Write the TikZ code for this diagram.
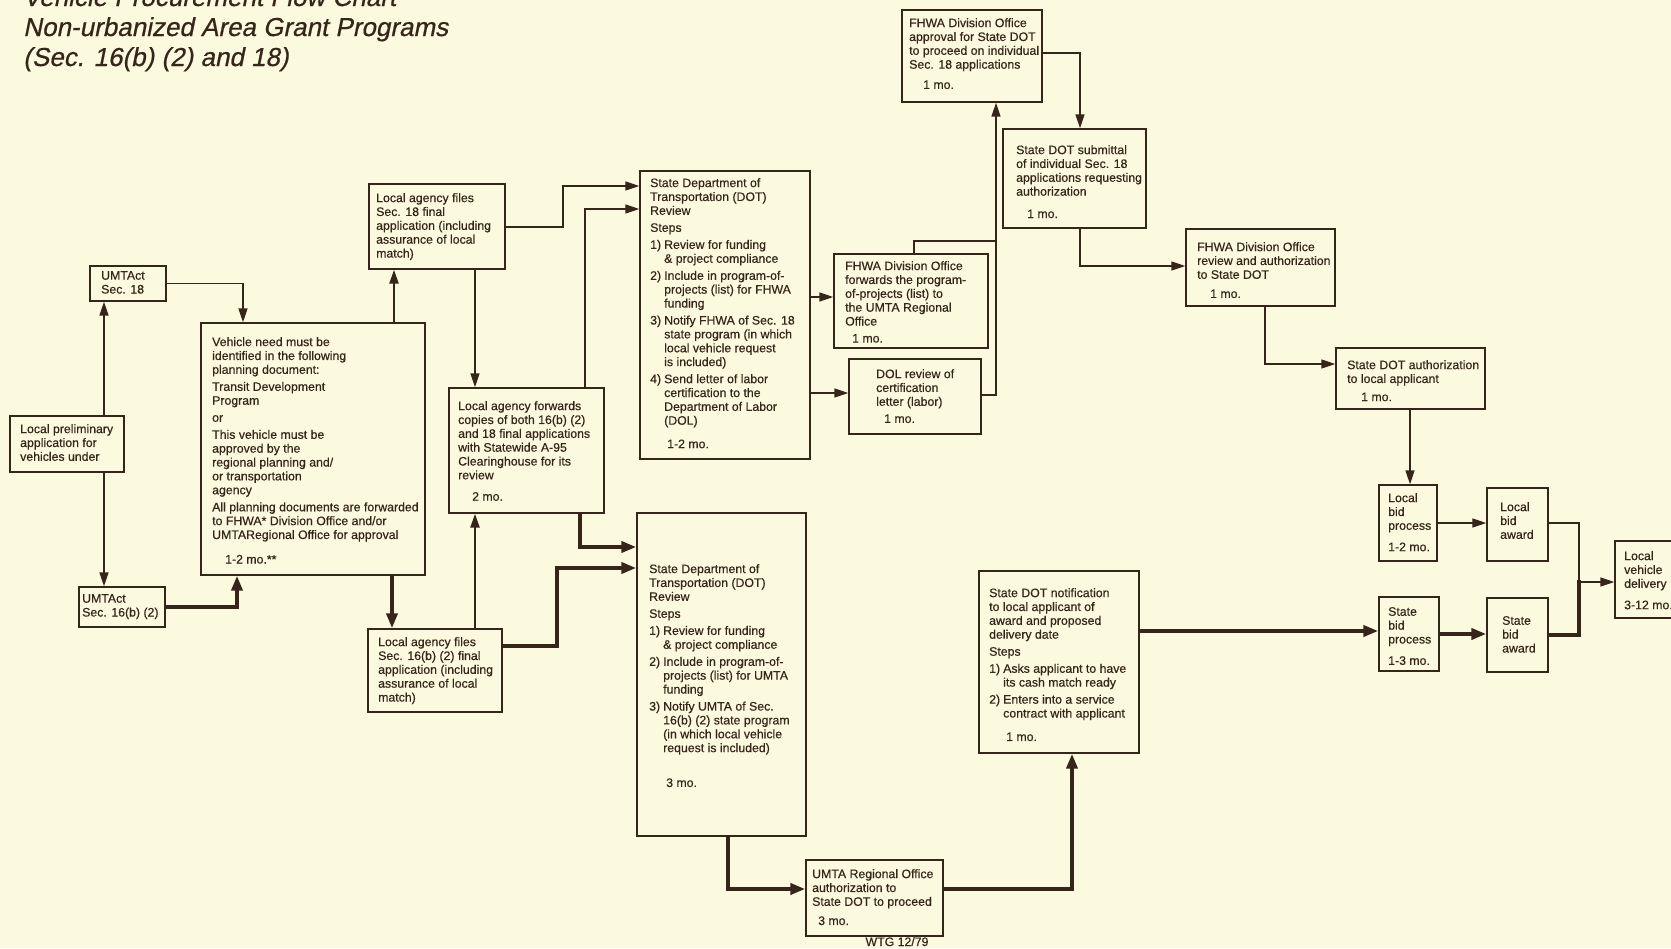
\documentclass[tikz,border=0pt]{standalone}
\usepackage{fontspec}
\setmainfont{Liberation Sans}
\newfontfamily\boxfont[FakeBold=0.5]{Liberation Sans}
\newfontfamily\ttlfont[FakeBold=0.6,FakeSlant=0.2]{Liberation Sans}
\usetikzlibrary{arrows.meta}
\definecolor{bg}{RGB}{251,249,222}
\definecolor{ink}{RGB}{55,37,27}
\newcommand{\ind}{\hspace*{14pt}}
\newcommand{\itm}[1]{\makebox[14pt][l]{#1}}
\newcommand{\mybox}[5]{\node[boxst, minimum width={#4-#2}, minimum height={#5-#3}] (#1) at ({(#2+#4)/2},{(#3+#5)/2}) {};}
\begin{document}
\begin{tikzpicture}[x=1pt,y=-1pt,
 boxst/.style={draw=ink, line width=1.4pt, rectangle, inner sep=0pt, anchor=center},
 txt/.style={anchor=north west, inner sep=0pt, align=left, text=ink, font=\boxfont\fontsize{12.3}{13.85}\selectfont},
 ttl/.style={anchor=base west, inner sep=0pt, text=ink, font=\ttlfont\fontsize{26}{30}\selectfont},
 ln/.style={draw=ink, line width=1.5pt},
 med/.style={draw=ink, line width=2.4pt},
 thk/.style={draw=ink, line width=4.2pt},
 arr/.style={-{Triangle[length=14pt,width=9pt]}},
 arrb/.style={-{Triangle[length=15pt,width=11pt]}}
 ]
\useasboundingbox (0,0) rectangle (1671,948);
\clip (0,0) rectangle (1671,948);
\fill[bg] (0,0) rectangle (1671,948);

% title
\node[ttl] (title1) at (23,6) {Vehicle Procurement Flow Chart};
\node[ttl] (title2) at (23,36) {Non-urbanized Area Grant Programs};
\node[ttl] (title3) at (23,66) {(Sec. 16(b) (2) and 18)};

% boxes
\mybox{sec18}{90}{266}{166}{301}
\node[txt] (sec18t) at (101,271) {UMTAct\\Sec. 18};

\mybox{prelim}{10}{416}{124}{472}
\node[txt] (prelimt) at (20,424) {Local preliminary\\application for\\vehicles under};

\mybox{sec16b}{79}{587}{165}{627}
\node[txt] (sec16bt) at (82,594) {UMTAct\\Sec. 16(b) (2)};

\mybox{plan}{201}{323}{425}{575}
\node[txt] (plant) at (212,337) {Vehicle need must be\\
identified in the following\\
planning document:\\[3.2pt]
Transit Development\\
Program\\[3.2pt]
or\\[3.2pt]
This vehicle must be\\
approved by the\\
regional planning and/\\
or transportation\\
agency\\[3.2pt]
All planning documents are forwarded\\
to FHWA* Division Office and/or\\
UMTARegional Office for approval\\[10.7pt]
\hspace*{13pt}1-2 mo.**};

\mybox{lafile18}{369}{184}{505}{269}
\node[txt] (lafile18t) at (376,193) {Local agency files\\Sec. 18 final\\application (including\\assurance of local\\match)};

\mybox{forwards}{449}{388}{604}{513}
\node[txt] (forwardst) at (458,401) {Local agency forwards\\copies of both 16(b) (2)\\and 18 final applications\\with Statewide A-95\\Clearinghouse for its\\review\\[7.5pt]\hspace*{14pt}2 mo.};

\mybox{lafile16}{368}{629}{502}{712}
\node[txt] (lafile16t) at (378,637) {Local agency files\\Sec. 16(b) (2) final\\application (including\\assurance of local\\match)};

\mybox{dot18}{640}{171}{810}{459}
\node[txt] (dot18t) at (650,178) {State Department of\\
Transportation (DOT)\\
Review\\[3.2pt]
Steps\\[3.2pt]
\itm{1)}Review for funding\\
\ind \& project compliance\\[3.2pt]
\itm{2)}Include in program-of-\\
\ind projects (list) for FHWA\\
\ind funding\\[3.2pt]
\itm{3)}Notify FHWA of Sec. 18\\
\ind state program (in which\\
\ind local vehicle request\\
\ind is included)\\[3.2pt]
\itm{4)}Send letter of labor\\
\ind certification to the\\
\ind Department of Labor\\
\ind (DOL)\\[9.6pt]
\hspace*{17pt}1-2 mo.};

\mybox{dot16}{637}{513}{806}{836}
\node[txt] (dot16t) at (649,564) {State Department of\\
Transportation (DOT)\\
Review\\[3.2pt]
Steps\\[3.2pt]
\itm{1)}Review for funding\\
\ind \& project compliance\\[3.2pt]
\itm{2)}Include in program-of-\\
\ind projects (list) for UMTA\\
\ind funding\\[3.2pt]
\itm{3)}Notify UMTA of Sec.\\
\ind 16(b) (2) state program\\
\ind (in which local vehicle\\
\ind request is included)\\[21pt]
\hspace*{17pt}3 mo.};

\mybox{fhwafwd}{834}{254}{988}{348}
\node[txt] (fhwafwdt) at (845,261) {FHWA Division Office\\forwards the program-\\of-projects (list) to\\the UMTA Regional\\Office\\[3.2pt]\hspace*{7pt}1 mo.};

\mybox{dolrev}{849}{359}{981}{434}
\node[txt] (dolrevt) at (876,369) {DOL review of\\certification\\letter (labor)\\[3.2pt]\hspace*{8pt}1 mo.};

\mybox{fhwaappr}{902}{10}{1042}{102}
\node[txt] (fhwaapprt) at (909,18) {FHWA Division Office\\approval for State DOT\\to proceed on individual\\Sec. 18 applications\\[6.4pt]\hspace*{14pt}1 mo.};

\mybox{submittal}{1003}{129}{1146}{228}
\node[txt] (submittalt) at (1016,145) {State DOT submittal\\of individual Sec. 18\\applications requesting\\authorization\\[8.5pt]\hspace*{11pt}1 mo.};

\mybox{fhwarev}{1186}{229}{1335}{306}
\node[txt] (fhwarevt) at (1197,242) {FHWA Division Office\\review and authorization\\to State DOT\\[5.3pt]\hspace*{13pt}1 mo.};

\mybox{stateauth}{1336}{348}{1485}{409}
\node[txt] (stateautht) at (1347,360) {State DOT authorization\\to local applicant\\[4.3pt]\hspace*{14pt}1 mo.};

\mybox{localbid}{1379}{485}{1437}{561}
\node[txt] (localbidt) at (1388,493) {Local\\bid\\process\\[7.5pt]1-2 mo.};

\mybox{localaward}{1487}{488}{1548}{561}
\node[txt] (localawardt) at (1500,502) {Local\\bid\\award};

\mybox{statebid}{1379}{597}{1439}{671}
\node[txt] (statebidt) at (1388,607) {State\\bid\\process\\[7.5pt]1-3 mo.};

\mybox{stateaward}{1487}{598}{1548}{672}
\node[txt] (stateawardt) at (1502,616) {State\\bid\\award};

\mybox{delivery}{1615}{541}{1675}{618}
\node[txt] (deliveryt) at (1624,551) {Local\\vehicle\\delivery\\[7.5pt]3-12 mo.};

\mybox{notif}{979}{571}{1139}{753}
\node[txt] (notift) at (989,588) {State DOT notification\\
to local applicant of\\
award and proposed\\
delivery date\\[3.2pt]
Steps\\[3.2pt]
\itm{1)}Asks applicant to have\\
\ind its cash match ready\\[3.2pt]
\itm{2)}Enters into a service\\
\ind contract with applicant\\[9.6pt]
\hspace*{17pt}1 mo.};

\mybox{umtareg}{806}{860}{943}{936}
\node[txt] (umtaregt) at (812,869) {UMTA Regional Office\\authorization to\\State DOT to proceed\\[5.3pt]\hspace*{6pt}3 mo.};

\node[anchor=base, inner sep=0pt, text=ink, font=\boxfont\fontsize{12.3}{14}\selectfont] (wtg) at (897,946) {WTG 12/79};

% connectors
\draw[ln,arr] (104,0 |- prelim.north) -- (104,0 |- sec18.south);
\draw[ln,arr] (104,0 |- prelim.south) -- (104,0 |- sec16b.north);
\draw[ln,arr] (sec18.east) -| (243,0 |- plan.north);
\draw[thk,arrb] (sec16b.east) -| (237,0 |- plan.south);
\draw[med,arr] (394,0 |- plan.north) -- (394,0 |- lafile18.south);
\draw[thk,arrb] (392,0 |- plan.south) -- (392,0 |- lafile16.north);
\draw[ln,arr] (lafile18.east |- 0,227) -- (563,227) -- (563,186) -- (dot18.west |- 0,186);
\draw[ln,arr] (475,0 |- lafile18.south) -- (475,0 |- forwards.north);
\draw[ln,arr] (585,0 |- forwards.north) |- (dot18.west |- 0,209);
\draw[thk,arrb] (580,0 |- forwards.south) |- (dot16.west |- 0,547);
\draw[med,arr] (475,0 |- lafile16.north) -- (475,0 |- forwards.south);
\draw[thk,arrb] (lafile16.east |- 0,646) -| (557,568) -- (dot16.west |- 0,568);
\draw[ln,arr] (dot18.east |- 0,297) -- (fhwafwd.west |- 0,297);
\draw[ln,arr] (dot18.east |- 0,393) -- (dolrev.west |- 0,393);
\draw[ln] (914,0 |- fhwafwd.north) |- (996,241);
\draw[ln,arr] (dolrev.east |- 0,395) -| (996,0 |- fhwaappr.south);
\draw[ln,arr] (fhwaappr.east |- 0,53) -| (1080,0 |- submittal.north);
\draw[ln,arr] (1080,0 |- submittal.south) |- (fhwarev.west |- 0,266);
\draw[ln,arr] (1265,0 |- fhwarev.south) |- (stateauth.west |- 0,364);
\draw[ln,arr] (1410,0 |- stateauth.south) -- (1410,0 |- localbid.north);
\draw[ln,arr] (localbid.east |- 0,523) -- (localaward.west |- 0,523);
\draw[ln,arr] (localaward.east |- 0,523) -| (1579,582) -- (delivery.west |- 0,582);
\draw[thk] (stateaward.east |- 0,635) -| (1579,580);
\draw[thk,arrb] (statebid.east |- 0,634) -- (stateaward.west |- 0,634);
\draw[thk,arrb] (notif.east |- 0,631) -- (statebid.west |- 0,631);
\draw[thk,arrb] (728,0 |- dot16.south) |- (umtareg.west |- 0,889);
\draw[thk,arrb] (umtareg.east |- 0,889) -| (1072,0 |- notif.south);
\end{tikzpicture}
\end{document}
